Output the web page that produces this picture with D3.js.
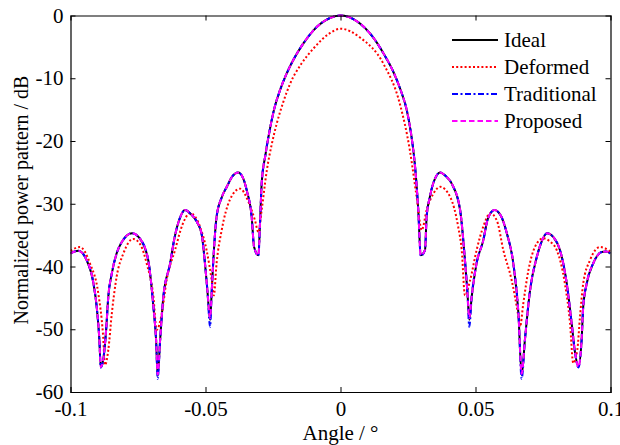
<!DOCTYPE html>
<html>
<head>
<meta charset="utf-8">
<script src="https://cdn.jsdelivr.net/npm/d3@7/dist/d3.min.js"></script>
<style>
  html, body { margin: 0; padding: 0; background: #fff; }
  svg { display: block; }
  text { font-family: "Liberation Serif", "Times New Roman", serif; fill: #000; }
</style>
</head>
<body>
<svg id="chart" width="620" height="445"></svg>
<script>
// ---------- data ----------
const xTicks = [-0.1, -0.05, 0, 0.05, 0.1];
const xTickLabels = ["-0.1", "-0.05", "0", "0.05", "0.1"];
const yTicks = [0, -10, -20, -30, -40, -50, -60];
const yTickLabels = ["0", "-10", "-20", "-30", "-40", "-50", "-60"];
const seriesNames = ["Ideal", "Deformed", "Traditional", "Proposed"];

const idealAngle = [-0.1,-0.0971,-0.094,-0.0915,-0.0903,-0.0893,-0.0888,-0.0879,-0.0868,-0.086,-0.0847,-0.0829,-0.081,-0.0772,-0.0742,-0.0712,-0.0693,-0.0683,-0.0677,-0.0668,-0.0656,-0.0631,-0.0615,-0.0595,-0.0576,-0.0555,-0.0533,-0.0514,-0.0502,-0.0493,-0.0483,-0.0477,-0.0471,-0.0459,-0.044,-0.0421,-0.04,-0.0379,-0.0362,-0.0347,-0.0329,-0.032,-0.0304,-0.0298,-0.0292,-0.0278,-0.0261,-0.0245,-0.0224,-0.02,-0.0175,-0.014,-0.0101,-0.0039,0,0.006,0.0121,0.016,0.0196,0.0222,0.0245,0.0262,0.0276,0.0288,0.0297,0.0313,0.0319,0.0331,0.035,0.0369,0.039,0.0412,0.0443,0.0461,0.047,0.0477,0.0486,0.0504,0.0529,0.0545,0.057,0.0595,0.0616,0.064,0.0659,0.0671,0.0683,0.0702,0.0727,0.074,0.0765,0.079,0.0813,0.0838,0.0856,0.0869,0.0881,0.0893,0.0899,0.0912,0.0936,0.0967,0.0985,0.1];
const idealDb = [-37.9,-37.5,-39.0,-42.7,-46.4,-51.7,-56.0,-54.9,-50.1,-44.8,-41.1,-37.9,-36.1,-34.7,-35.6,-39.0,-46.4,-51.7,-57.4,-51.7,-44.8,-39.5,-35.5,-32.3,-31.0,-31.6,-32.8,-34.9,-39.5,-43.8,-48.5,-44.0,-39.0,-32.1,-29.0,-27.3,-25.6,-25.0,-25.8,-27.9,-32.1,-36.9,-38.2,-33.0,-26.8,-22.2,-18.0,-14.8,-11.9,-9.3,-7.1,-4.6,-2.4,-0.4,0,-0.9,-3.5,-6.1,-9.0,-11.8,-15.0,-19.0,-24.0,-31.0,-38.2,-37.4,-32.1,-28.9,-26.0,-25.0,-25.6,-26.8,-31.0,-39.0,-44.0,-48.5,-44.8,-39.5,-35.8,-32.5,-31.0,-32.0,-34.7,-39.5,-47.5,-57.3,-51.7,-43.8,-38.5,-36.6,-34.7,-35.4,-37.4,-42.7,-49.0,-53.8,-56.0,-51.7,-46.4,-42.7,-39.5,-37.7,-37.6,-37.9];
const traditionalDb = [-37.9,-37.5,-39.0,-42.7,-46.4,-51.7,-56.1,-54.9,-50.1,-44.8,-41.1,-37.9,-36.1,-34.7,-35.6,-39.0,-46.4,-51.7,-57.9,-51.7,-44.8,-39.5,-35.5,-32.3,-31.0,-31.6,-32.8,-34.9,-39.5,-43.8,-49.6,-44.0,-39.0,-32.1,-29.0,-27.3,-25.6,-25.0,-25.8,-27.9,-32.1,-36.9,-38.3,-33.0,-26.8,-22.2,-18.0,-14.8,-11.9,-9.3,-7.1,-4.6,-2.4,-0.4,0,-0.9,-3.5,-6.1,-9.0,-11.8,-15.0,-19.0,-24.0,-31.0,-38.3,-37.4,-32.1,-28.9,-26.0,-25.0,-25.6,-26.8,-31.0,-39.0,-44.0,-49.6,-44.8,-39.5,-35.8,-32.5,-31.0,-32.0,-34.7,-39.5,-47.5,-57.9,-51.7,-43.8,-38.5,-36.6,-34.7,-35.4,-37.4,-42.7,-49.0,-53.8,-56.1,-51.7,-46.4,-42.7,-39.5,-37.7,-37.6,-37.9];
const proposedDb = [-37.9,-37.5,-39.0,-42.7,-46.4,-51.7,-56.0,-54.9,-50.1,-44.8,-41.1,-37.9,-36.1,-34.7,-35.6,-39.0,-46.4,-51.7,-57.2,-51.7,-44.8,-39.5,-35.5,-32.3,-31.0,-31.6,-32.8,-34.9,-39.5,-43.8,-48.2,-44.0,-39.0,-32.1,-29.0,-27.3,-25.6,-25.0,-25.8,-27.9,-32.1,-36.9,-38.2,-33.0,-26.8,-22.2,-18.0,-14.8,-11.9,-9.3,-7.1,-4.6,-2.4,-0.4,0,-0.9,-3.5,-6.1,-9.0,-11.8,-15.0,-19.0,-24.0,-31.0,-38.2,-37.4,-32.1,-28.9,-26.0,-25.0,-25.6,-26.8,-31.0,-39.0,-44.0,-48.2,-44.8,-39.5,-35.8,-32.5,-31.0,-32.0,-34.7,-39.5,-47.5,-57.1,-51.7,-43.8,-38.5,-36.6,-34.7,-35.4,-37.4,-42.7,-49.0,-53.8,-56.0,-51.7,-46.4,-42.7,-39.5,-37.7,-37.6,-37.9];

const deformedAngle = [-0.1,-0.0965,-0.0928,-0.0897,-0.088,-0.0872,-0.086,-0.0847,-0.0829,-0.0804,-0.0768,-0.074,-0.0718,-0.0693,-0.0681,-0.0662,-0.0644,-0.0613,-0.0585,-0.0557,-0.052,-0.0496,-0.0477,-0.0469,-0.0459,-0.044,-0.041,-0.0372,-0.0341,-0.0317,-0.0304,-0.0292,-0.0273,-0.0255,-0.0236,-0.0212,-0.0187,-0.0145,-0.0101,-0.0039,0,0.0072,0.0159,0.022,0.0257,0.0282,0.0301,0.0319,0.0344,0.0369,0.0406,0.0436,0.0449,0.0461,0.048,0.0504,0.053,0.0555,0.058,0.0603,0.0634,0.0659,0.0665,0.0677,0.0696,0.072,0.0751,0.0775,0.0801,0.0831,0.085,0.0862,0.0877,0.0887,0.0899,0.0924,0.0961,0.1];
const deformedDb = [-37.5,-36.9,-39.5,-44.3,-50.6,-55.7,-53.3,-47.5,-41.6,-37.9,-35.6,-36.6,-39.5,-44.8,-50.1,-47.5,-42.2,-37.4,-33.3,-31.5,-33.7,-37.4,-42.2,-44.6,-39.5,-34.2,-29.4,-27.6,-29.7,-32.6,-34.5,-31.0,-24.7,-20.6,-17.2,-13.8,-10.9,-7.7,-5.3,-2.8,-2.1,-3.5,-7.7,-14.1,-21.5,-28.9,-34.2,-31.0,-28.4,-27.3,-28.9,-33.7,-37.4,-44.6,-42.2,-37.4,-33.5,-31.5,-32.8,-37.4,-42.2,-48.0,-49.6,-45.9,-40.6,-36.9,-35.5,-36.0,-37.4,-42.7,-49.0,-55.4,-53.3,-48.0,-42.7,-39.0,-36.9,-37.6];

// ---------- layout ----------
const svg = d3.select("#chart");
const x = d3.scaleLinear().domain([-0.1, 0.1]).range([70.5, 610.5]);
const y = d3.scaleLinear().domain([-60, 0]).range([392, 15.5]);
const fontSize = 21;

const series = [
  { name: seriesNames[0], ax: idealAngle, db: idealDb, color: "#000000", dash: null, width: 2 },
  { name: seriesNames[1], ax: deformedAngle, db: deformedDb, color: "#ff0000", dash: "2,2.2", width: 2 },
  { name: seriesNames[2], ax: idealAngle, db: traditionalDb, color: "#0000ff", dash: "6,2.5,2,2.5", width: 2 },
  { name: seriesNames[3], ax: idealAngle, db: proposedDb, color: "#ff00ff", dash: "5.5,3", width: 2 }
];

const line = d3.line()
  .x(d => x(d[0]))
  .y(d => y(d[1]))
  .curve(d3.curveMonotoneX);

const plot = svg.append("g");
plot.append("defs").append("clipPath").attr("id", "clip")
  .append("rect").attr("x", 70.5).attr("y", 10).attr("width", 540).attr("height", 385);

series.forEach(s => {
  const pts = s.ax.map((a, i) => [a, s.db[i]]);
  plot.append("path")
    .attr("d", line(pts))
    .attr("fill", "none")
    .attr("stroke", s.color)
    .attr("stroke-width", s.width)
    .attr("stroke-dasharray", s.dash)
    .attr("clip-path", "url(#clip)");
});

// ---------- axes ----------
const axB = svg.append("g").attr("transform", `translate(0,${y(-60)})`)
  .call(d3.axisBottom(x).tickValues(xTicks).tickSize(-5).tickPadding(9)
    .tickFormat((d, i) => xTickLabels[i]));
const axT = svg.append("g").attr("transform", `translate(0,${y(0)})`)
  .call(d3.axisTop(x).tickValues(xTicks).tickSize(-5).tickFormat(""));
const axL = svg.append("g").attr("transform", `translate(${x(-0.1)},0)`)
  .call(d3.axisLeft(y).tickValues(yTicks).tickSize(-5).tickPadding(7)
    .tickFormat((d, i) => yTickLabels[i]));
const axR = svg.append("g").attr("transform", `translate(${x(0.1)},0)`)
  .call(d3.axisRight(y).tickValues(yTicks).tickSize(-5).tickFormat(""));

[axB, axT, axL, axR].forEach(g => {
  g.select(".domain").attr("stroke", "#000").attr("stroke-width", 1.2);
  g.selectAll(".tick line").attr("stroke", "#000").attr("stroke-width", 1);
  g.selectAll("text").attr("font-size", fontSize)
    .attr("font-family", '"Liberation Serif", "Times New Roman", serif').attr("fill", "#000");
});
// remove ticks lying on the frame corners
axB.selectAll(".tick").filter(d => d === -0.1 || d === 0.1).select("line").remove();
axT.selectAll(".tick").filter(d => d === -0.1 || d === 0.1).select("line").remove();
axL.selectAll(".tick").filter(d => d === 0 || d === -60).select("line").remove();
axR.selectAll(".tick").filter(d => d === 0 || d === -60).select("line").remove();

// axis titles
svg.append("text")
  .attr("x", x(0)).attr("y", 440)
  .attr("text-anchor", "middle").attr("font-size", fontSize)
  .text("Angle / °");
svg.append("text")
  .attr("transform", `translate(27.5,200) rotate(-90)`)
  .attr("text-anchor", "middle").attr("font-size", 20)
  .text("Normalized power pattern / dB");

// ---------- legend ----------
const legend = svg.append("g");
const legendY = [40, 67, 94, 121];
series.forEach((s, i) => {
  legend.append("line")
    .attr("x1", 452).attr("x2", 498)
    .attr("y1", legendY[i]).attr("y2", legendY[i])
    .attr("stroke", s.color).attr("stroke-width", 2)
    .attr("stroke-dasharray", s.dash);
  legend.append("text")
    .attr("x", 504).attr("y", legendY[i] + 7)
    .attr("font-size", fontSize)
    .text(s.name);
});
</script>
</body>
</html>
